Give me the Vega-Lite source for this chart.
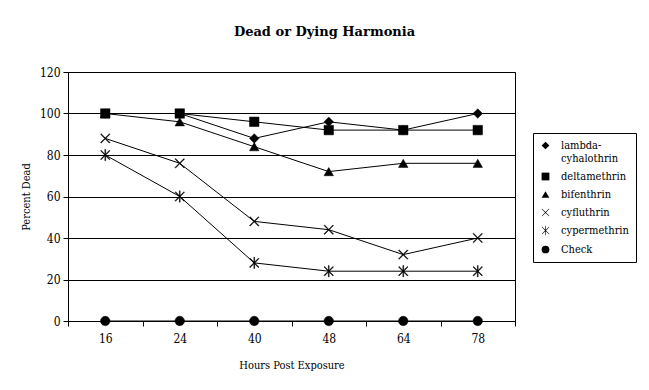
{
  "$schema": "https://vega.github.io/schema/vega-lite/v6.json",
  "width": 447,
  "height": 249,
  "autosize": "none",
  "padding": {"left": 68, "top": 72, "right": 134, "bottom": 69},
  "background": "white",
  "title": {"text": "Dead or Dying Harmonia", "font": "DejaVu Serif", "fontSize": 13, "fontWeight": "bold", "color": "black", "anchor": "middle", "dx": 33, "offset": 27},
  "config": {
    "view": {"stroke": "black", "strokeWidth": 1},
    "axis": {
      "labelFont": "DejaVu Serif Condensed", "labelFontSize": 12, "labelColor": "black",
      "titleFont": "DejaVu Serif Condensed", "titleFontSize": 11, "titleFontWeight": "normal", "titleColor": "black",
      "domainColor": "black", "tickColor": "black", "tickSize": 5, "gridColor": "black", "gridOpacity": 1
    }
  },
  "data": {"values": [
    {"hours": 16, "series": "lambda-cyhalothrin", "pct": 100},
    {"hours": 24, "series": "lambda-cyhalothrin", "pct": 100},
    {"hours": 40, "series": "lambda-cyhalothrin", "pct": 88},
    {"hours": 48, "series": "lambda-cyhalothrin", "pct": 96},
    {"hours": 64, "series": "lambda-cyhalothrin", "pct": 92},
    {"hours": 78, "series": "lambda-cyhalothrin", "pct": 100},
    {"hours": 16, "series": "deltamethrin", "pct": 100},
    {"hours": 24, "series": "deltamethrin", "pct": 100},
    {"hours": 40, "series": "deltamethrin", "pct": 96},
    {"hours": 48, "series": "deltamethrin", "pct": 92},
    {"hours": 64, "series": "deltamethrin", "pct": 92},
    {"hours": 78, "series": "deltamethrin", "pct": 92},
    {"hours": 16, "series": "bifenthrin", "pct": 100},
    {"hours": 24, "series": "bifenthrin", "pct": 96},
    {"hours": 40, "series": "bifenthrin", "pct": 84},
    {"hours": 48, "series": "bifenthrin", "pct": 72},
    {"hours": 64, "series": "bifenthrin", "pct": 76},
    {"hours": 78, "series": "bifenthrin", "pct": 76},
    {"hours": 16, "series": "cyfluthrin", "pct": 88},
    {"hours": 24, "series": "cyfluthrin", "pct": 76},
    {"hours": 40, "series": "cyfluthrin", "pct": 48},
    {"hours": 48, "series": "cyfluthrin", "pct": 44},
    {"hours": 64, "series": "cyfluthrin", "pct": 32},
    {"hours": 78, "series": "cyfluthrin", "pct": 40},
    {"hours": 16, "series": "cypermethrin", "pct": 80},
    {"hours": 24, "series": "cypermethrin", "pct": 60},
    {"hours": 40, "series": "cypermethrin", "pct": 28},
    {"hours": 48, "series": "cypermethrin", "pct": 24},
    {"hours": 64, "series": "cypermethrin", "pct": 24},
    {"hours": 78, "series": "cypermethrin", "pct": 24},
    {"hours": 16, "series": "Check", "pct": 0},
    {"hours": 24, "series": "Check", "pct": 0},
    {"hours": 40, "series": "Check", "pct": 0},
    {"hours": 48, "series": "Check", "pct": 0},
    {"hours": 64, "series": "Check", "pct": 0},
    {"hours": 78, "series": "Check", "pct": 0}
  ]},
  "encoding": {
    "x": {
      "field": "hours", "type": "ordinal",
      "scale": {"type": "band", "paddingInner": 0, "paddingOuter": 0},
      "axis": {"title": "Hours Post Exposure", "labelAngle": 0, "tickBand": "extent", "grid": false, "labelPadding": 7, "titlePadding": 15}
    },
    "y": {
      "field": "pct", "type": "quantitative",
      "scale": {"domain": [0, 120], "nice": false},
      "axis": {"title": "Percent Dead", "values": [0, 20, 40, 60, 80, 100, 120], "grid": true, "labelPadding": 3, "titlePadding": 8}
    }
  },
  "layer": [
    {
      "mark": {"type": "line", "color": "black", "strokeWidth": 1},
      "encoding": {"detail": {"field": "series"}}
    },
    {
      "mark": {"type": "point", "filled": true, "color": "black", "stroke": "black", "strokeWidth": 0.5, "opacity": 1, "fillOpacity": 1, "size": 90},
      "encoding": {
        "shape": {
          "field": "series", "type": "nominal",
          "scale": {
            "domain": ["lambda-cyhalothrin", "deltamethrin", "bifenthrin", "cyfluthrin", "cypermethrin", "Check"],
            "range": [
              "diamond", "square", "triangle-up",
              "M-1,-0.88L-0.88,-1L0,-0.12L0.88,-1L1,-0.88L0.12,0L1,0.88L0.88,1L0,0.12L-0.88,1L-1,0.88L-0.12,0Z",
              "M-1,-0.88L-0.88,-1L0,-0.12L0.88,-1L1,-0.88L0.12,0L1,0.88L0.88,1L0,0.12L-0.88,1L-1,0.88L-0.12,0ZM-0.08,-1.2H0.08V1.2H-0.08Z",
              "circle"
            ]
          },
          "legend": {
            "title": null, "orient": "none", "legendX": 465, "legendY": 61,
            "strokeColor": "black", "padding": 7, "rowPadding": 6,
            "labelFont": "DejaVu Serif Condensed", "labelFontSize": 11, "labelColor": "black",
            "labelExpr": "datum.label == 'lambda-cyhalothrin' ? ['lambda-', 'cyhalothrin'] : datum.label",
            "symbolFillColor": "black", "symbolStrokeColor": "black", "symbolStrokeWidth": 0.5, "symbolSize": 60, "symbolOpacity": 1,
            "labelOffset": 10
          }
        }
      }
    }
  ]
}
